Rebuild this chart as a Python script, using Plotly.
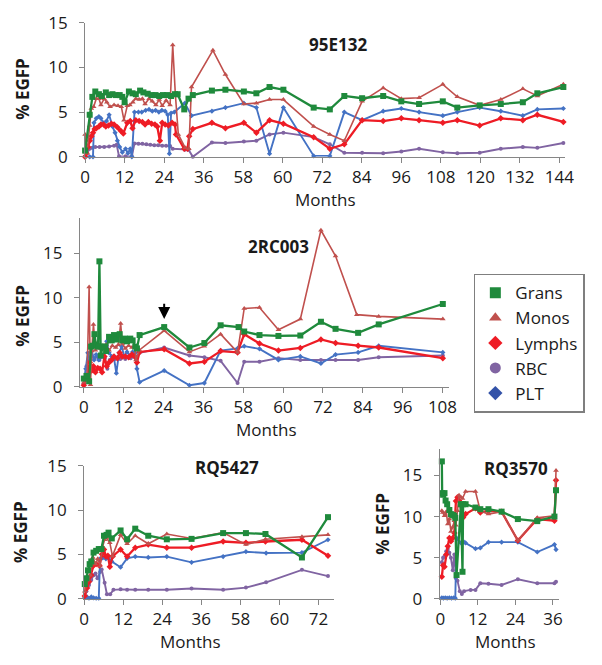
import plotly.graph_objects as go

FONT = "Open Sans"
TXT = "#1a1a1a"
AXC = "#868686"

# ---------------- Panel 1: 95E132 ----------------
p1_grans_x = [0, 1.4, 2.2, 3.1, 4.2, 5.1, 6.3, 7.3, 8.3, 9.3, 10.5, 11.3, 12.0, 13.3, 14.4, 15.4, 16.7, 17.7, 19.0, 20.2, 21.4, 22.5, 23.6, 24.9, 26.1, 27.3, 28.1, 30.1, 31.4, 32.7, 38.5, 42.6, 48.2, 52.0, 56.0, 60.2, 69.4, 74.3, 78.7, 84.1, 90.5, 96.0, 101.4, 108.6, 113.0, 119.8, 126.2, 132.9, 137.3, 145.2]
p1_grans_y = [0.7, 4.7, 6.7, 7.3, 7.0, 6.8, 7.2, 6.9, 7.0, 6.9, 6.9, 6.7, 6.1, 7.3, 7.1, 7.0, 7.4, 7.2, 7.05, 6.9, 6.9, 6.8, 6.9, 6.9, 6.8, 7.0, 7.0, 5.3, 6.5, 6.9, 7.4, 7.5, 7.3, 7.1, 7.8, 7.5, 5.5, 5.3, 6.8, 6.55, 6.8, 6.2, 5.9, 6.2, 5.5, 5.75, 5.9, 6.1, 7.1, 7.8]
p1_monos_x = [0, 0.6, 1.4, 1.9, 2.6, 3.4, 4.2, 4.8, 5.8, 6.6, 7.6, 8.8, 10.0, 11.0, 11.8, 12.8, 13.6, 14.5, 15.4, 16.4, 17.4, 18.2, 19.4, 20.4, 21.5, 22.5, 23.4, 24.6, 25.8, 26.6, 27.4, 28.3, 30.4, 31.5, 32.3, 38.8, 42.6, 48.2, 52.0, 56.0, 60.2, 69.4, 74.3, 78.7, 84.1, 90.5, 96.0, 101.4, 108.6, 113.0, 119.8, 126.2, 132.9, 137.3, 145.2]
p1_monos_y = [2.5, 0.4, 3.5, 5.4, 5.6, 6.5, 6.5, 5.8, 6.5, 6.1, 5.6, 5.8, 5.7, 5.6, 4.1, 5.7, 5.8, 6.1, 6.5, 6.4, 6.5, 5.9, 6.5, 6.2, 5.8, 6.4, 5.7, 6.3, 5.8, 12.5, 7.0, 2.5, 1.0, 0.9, 7.8, 11.9, 9.2, 5.9, 6.0, 6.4, 6.4, 3.4, 2.5, 1.8, 6.2, 7.7, 6.5, 6.6, 8.1, 6.7, 5.75, 6.4, 7.6, 6.8, 8.1]
p1_lymphs_x = [0, 0.4, 0.9, 1.4, 1.9, 2.4, 2.9, 3.4, 4.2, 4.8, 5.6, 6.3, 7.1, 8.0, 8.8, 9.8, 10.8, 11.6, 12.8, 13.7, 14.4, 15.4, 16.4, 17.4, 18.2, 19.2, 20.2, 21.2, 21.9, 22.7, 23.4, 24.3, 25.3, 26.4, 27.3, 27.6, 30.1, 31.1, 31.6, 32.7, 38.5, 42.6, 48.2, 52.0, 56.0, 60.2, 69.4, 74.3, 78.7, 84.1, 90.5, 96.0, 101.4, 108.6, 113.0, 119.8, 126.2, 132.9, 137.3, 145.2]
p1_lymphs_y = [0, 0.4, 1.1, 1.8, 2.3, 2.7, 3.1, 3.2, 3.4, 3.6, 3.6, 3.4, 3.5, 3.7, 3.6, 3.3, 2.9, 2.6, 3.8, 4.0, 3.2, 4.1, 4.0, 3.9, 3.6, 3.9, 3.7, 3.6, 3.4, 1.8, 3.8, 3.6, 3.5, 3.8, 3.6, 2.5, 0.9, 0.9, 2.3, 3.1, 3.8, 3.2, 3.8, 2.7, 4.1, 3.7, 2.2, 0.9, 1.4, 4.1, 4.0, 4.3, 4.1, 3.8, 4.1, 3.5, 4.3, 4.1, 4.7, 3.9]
p1_rbc_x = [0, 0.6, 1.4, 2.2, 3.1, 4.4, 5.8, 7.3, 8.8, 9.6, 10.3, 12.3, 14.2, 15.0, 16.2, 17.4, 18.6, 19.8, 21.0, 22.2, 23.4, 24.6, 25.8, 26.6, 30.3, 31.4, 32.7, 38.5, 42.6, 48.2, 52.0, 56.0, 60.2, 69.4, 74.3, 78.7, 84.1, 90.5, 96.0, 101.4, 108.6, 113.0, 119.8, 126.2, 132.9, 137.3, 145.2]
p1_rbc_y = [0, 0.4, 0.9, 1.0, 1.1, 1.1, 1.1, 1.15, 1.25, 1.35, 0.05, 0.05, 0.05, 1.5, 1.45, 1.45, 1.4, 1.35, 1.3, 1.3, 1.25, 1.25, 1.2, 0.9, 0.8, 0.8, 0.0, 1.6, 1.55, 1.7, 1.8, 2.5, 2.7, 2.2, 1.4, 0.45, 0.45, 0.4, 0.6, 0.9, 0.5, 0.4, 0.45, 0.9, 1.1, 1.0, 1.55]
p1_plt_x = [0, 1.4, 2.4, 2.7, 3.4, 4.2, 4.8, 5.5, 6.5, 7.3, 8.3, 9.1, 9.8, 10.5, 11.3, 12.3, 13.0, 13.7, 14.2, 15.0, 16.2, 17.2, 18.4, 19.4, 20.4, 21.4, 22.4, 23.3, 24.3, 25.1, 25.6, 26.1, 27.1, 30.3, 32.3, 38.5, 42.6, 48.2, 52.0, 56.0, 60.2, 69.4, 74.3, 78.7, 84.1, 90.5, 96.0, 101.4, 108.6, 113.0, 119.8, 126.2, 132.9, 137.3, 145.2]
p1_plt_y = [0, 0, 0, 3.8, 4.3, 4.5, 4.3, 3.8, 4.0, 4.7, 3.4, 2.7, 1.8, 1.1, 0.5, 0.9, 0.4, 0.9, 0, 5.0, 5.0, 5.0, 5.2, 5.3, 5.1, 5.2, 5.0, 5.2, 5.1, 4.7, 0.35, 4.9, 5.0, 6.0, 4.6, 5.1, 5.5, 6.0, 5.5, 0.35, 5.5, 0.1, 0.1, 5.0, 4.1, 5.1, 5.4, 5.0, 4.6, 5.0, 5.5, 5.1, 4.6, 5.3, 5.4]

# ---------------- Panel 2: 2RC003 ----------------
p2_grans_x = [0, 0.8, 1.6, 2.2, 2.7, 3.2, 3.7, 4.3, 4.7, 5.1, 5.7, 6.2, 6.7, 7.6, 8.4, 9.1, 9.9, 10.8, 11.6, 12.4, 13.0, 14.0, 14.7, 15.5, 16.0, 16.8, 24.2, 31.8, 36.3, 41.2, 46.6, 48.3, 52.9, 58.6, 65.2, 71.4, 75.8, 82.6, 88.8, 108.1]
p2_grans_y = [0.9, 1.2, 0.6, 4.5, 4.6, 5.9, 4.7, 4.5, 14.1, 3.5, 4.5, 4.5, 4.0, 5.6, 5.2, 5.8, 5.3, 5.9, 5.2, 5.4, 5.1, 5.4, 5.2, 4.5, 4.3, 5.8, 6.7, 4.4, 4.9, 6.9, 6.7, 6.2, 5.8, 5.7, 5.75, 7.3, 6.5, 6.05, 7.0, 9.3]
p2_monos_x = [0, 1.0, 1.6, 2.0, 2.4, 2.9, 3.5, 4.1, 4.9, 5.7, 6.7, 7.6, 8.6, 9.6, 10.4, 11.1, 11.6, 12.5, 13.5, 14.5, 15.3, 15.7, 16.7, 24.2, 31.8, 36.3, 41.2, 46.3, 48.3, 52.9, 58.6, 65.2, 71.4, 75.8, 82.2, 88.8, 108.1]
p2_monos_y = [0.5, 1.2, 11.2, 0.2, 4.0, 7.0, 4.1, 4.9, 4.3, 4.6, 4.7, 4.1, 4.6, 4.4, 4.7, 7.1, 4.85, 4.3, 4.6, 4.4, 4.6, 3.0, 4.1, 6.3, 3.9, 4.55, 5.9, 3.85, 8.8, 8.9, 6.4, 7.6, 17.6, 14.7, 8.1, 7.9, 7.6]
p2_lymphs_x = [0, 1.0, 1.8, 2.4, 2.9, 3.5, 4.2, 4.9, 5.5, 6.2, 6.9, 7.6, 8.4, 9.1, 10.1, 10.8, 11.6, 12.5, 13.5, 14.5, 15.3, 16.0, 16.8, 24.2, 31.8, 36.3, 41.2, 46.3, 48.3, 52.9, 58.6, 65.2, 71.4, 75.8, 82.6, 88.8, 108.1]
p2_lymphs_y = [0.15, 1.2, 2.7, 1.8, 2.3, 1.6, 2.1, 2.0, 1.6, 3.4, 2.3, 2.7, 3.0, 3.4, 3.2, 3.8, 3.4, 3.4, 3.3, 3.6, 3.4, 2.7, 3.9, 4.2, 2.6, 2.8, 4.0, 3.85, 5.9, 4.85, 4.05, 4.35, 5.3, 4.9, 4.6, 4.4, 3.2]
p2_rbc_x = [0, 0.8, 1.6, 2.4, 3.2, 3.9, 4.7, 5.5, 6.3, 7.1, 7.8, 8.6, 9.4, 10.2, 11.0, 11.8, 12.5, 13.3, 14.1, 14.9, 15.7, 16.8, 24.2, 31.8, 36.3, 41.2, 46.3, 48.3, 52.9, 58.6, 65.2, 71.4, 75.8, 82.6, 88.8, 108.1]
p2_rbc_y = [0.3, 2.3, 3.0, 3.4, 3.2, 3.4, 3.0, 3.4, 3.2, 2.0, 3.0, 3.3, 3.1, 3.3, 3.1, 3.3, 3.1, 3.4, 3.2, 3.4, 3.2, 3.8, 4.4, 3.5, 3.3, 2.9, 0.4, 2.8, 2.8, 3.2, 3.0, 3.0, 3.0, 3.0, 3.3, 3.5]
p2_plt_x = [0, 0.6, 1.2, 1.8, 2.4, 3.1, 3.7, 4.5, 5.3, 6.1, 6.9, 7.6, 8.4, 9.1, 9.8, 10.6, 11.4, 12.2, 13.0, 14.0, 14.7, 15.5, 16.0, 16.8, 24.2, 31.8, 36.3, 41.2, 46.3, 48.3, 52.9, 58.6, 65.2, 71.4, 75.8, 82.6, 88.8, 108.1]
p2_plt_y = [0.3, 2.0, 3.8, 3.0, 4.0, 3.0, 3.6, 3.0, 3.4, 3.3, 5.1, 3.8, 3.4, 3.2, 1.5, 3.8, 4.5, 3.4, 3.9, 3.5, 3.9, 3.8, 2.0, 0.5, 1.8, 0.15, 0.4, 4.05, 4.3, 4.55, 4.25, 3.0, 3.4, 2.6, 3.6, 3.85, 4.6, 3.85]

# ---------------- Panel 3: RQ5427 ----------------
p3_grans_x = [0.2, 0.7, 1.2, 1.7, 2.2, 2.9, 3.7, 4.5, 5.3, 6.1, 6.9, 7.5, 8.5, 11.2, 13.2, 15.7, 19.7, 25.4, 33.0, 42.7, 49.7, 55.7, 66.9, 74.9]
p3_grans_y = [1.65, 2.3, 3.2, 3.9, 4.2, 5.2, 5.4, 5.6, 5.6, 7.1, 7.2, 7.45, 6.8, 7.7, 6.7, 7.9, 7.1, 6.7, 6.75, 7.4, 7.4, 7.3, 4.65, 9.2]
p3_monos_x = [0.2, 1.2, 1.9, 2.7, 3.5, 4.2, 4.9, 5.7, 6.3, 6.9, 7.9, 8.7, 11.2, 13.2, 15.7, 19.7, 25.4, 33.0, 42.7, 49.7, 55.7, 66.9, 74.9]
p3_monos_y = [0.85, 2.1, 2.65, 4.65, 3.9, 4.5, 3.7, 5.9, 6.65, 6.85, 6.3, 4.8, 7.2, 6.2, 7.1, 6.2, 7.3, 6.8, 7.45, 6.1, 6.7, 7.0, 7.2]
p3_lymphs_x = [0.2, 0.9, 1.5, 2.2, 2.9, 3.7, 4.7, 5.5, 6.1, 6.7, 7.3, 7.9, 8.8, 11.2, 13.2, 15.7, 19.7, 25.4, 33.0, 42.7, 49.7, 55.7, 66.9, 74.9]
p3_lymphs_y = [0.3, 1.2, 1.9, 2.65, 3.75, 3.9, 3.75, 5.0, 5.55, 4.75, 4.85, 3.6, 4.8, 5.55, 4.75, 5.75, 6.1, 5.75, 5.75, 6.45, 6.3, 6.45, 6.65, 4.85]
p3_rbc_x = [0.2, 0.7, 1.5, 2.2, 2.9, 3.5, 4.1, 4.9, 5.4, 6.3, 7.0, 8.0, 9.0, 11.2, 13.2, 15.7, 19.7, 25.4, 33.0, 42.7, 49.7, 55.9, 66.9, 74.9]
p3_rbc_y = [0.2, 0.85, 1.55, 2.1, 2.65, 2.85, 2.3, 3.0, 3.3, 1.8, 0.5, 0.5, 1.0, 1.05, 1.0, 1.0, 1.0, 1.0, 1.15, 1.0, 1.25, 1.85, 3.25, 2.55]
p3_plt_x = [0.2, 0.9, 1.5, 2.2, 2.9, 3.7, 4.5, 4.9, 5.7, 6.7, 7.5, 8.5, 11.2, 13.2, 15.7, 19.7, 25.4, 33.0, 42.7, 49.7, 55.9, 66.9, 74.9]
p3_plt_y = [0.1, 0.2, 0.05, 0.2, 0.1, 0.05, 0.05, 4.5, 4.6, 4.5, 4.6, 4.2, 3.55, 4.55, 4.75, 4.65, 4.75, 4.1, 4.75, 5.3, 5.15, 5.2, 6.65]

# ---------------- Panel 4: RQ3570 ----------------
p4_grans_x = [0.5, 0.6, 0.9, 1.35, 1.7, 2.2, 2.9, 3.4, 4.0, 4.5, 4.8, 5.2, 6.6, 7.1, 7.3, 8.1, 11.25, 12.8, 15.4, 19.6, 24.8, 31.0, 36.5, 37.0]
p4_grans_y = [16.7, 12.85, 12.65, 12.85, 11.95, 11.5, 10.8, 10.3, 10.2, 10.1, 9.85, 2.9, 11.5, 3.3, 11.5, 11.5, 11.1, 10.9, 10.9, 10.6, 9.7, 9.45, 10.0, 13.2]
p4_monos_x = [0.5, 0.8, 1.35, 1.9, 2.4, 2.9, 3.4, 4.0, 4.5, 5.0, 5.5, 6.0, 6.6, 7.1, 8.1, 11.25, 12.8, 15.4, 19.6, 24.8, 31.0, 36.5, 37.0]
p4_monos_y = [10.7, 10.5, 10.1, 10.6, 9.1, 9.7, 8.2, 8.75, 9.5, 8.95, 10.7, 12.6, 12.35, 12.2, 13.05, 13.05, 10.7, 10.3, 10.6, 7.1, 9.85, 10.1, 15.6]
p4_lymphs_x = [0.5, 0.9, 1.35, 1.9, 2.4, 2.9, 3.4, 4.0, 4.5, 5.0, 5.5, 6.0, 7.3, 8.1, 11.25, 12.8, 15.4, 19.6, 24.8, 31.0, 36.5, 37.0]
p4_lymphs_y = [2.7, 4.1, 3.9, 5.4, 6.4, 7.4, 7.0, 7.4, 8.0, 11.9, 12.35, 11.95, 9.9, 10.3, 11.0, 10.5, 10.7, 10.6, 7.1, 9.7, 9.5, 14.4]
p4_rbc_x = [0.5, 0.9, 1.35, 1.9, 2.4, 2.9, 3.4, 4.0, 4.5, 5.0, 5.5, 6.25, 6.9, 7.6, 9.7, 11.25, 12.8, 15.4, 19.6, 24.8, 31.0, 36.5, 37.0]
p4_rbc_y = [4.45, 5.0, 5.2, 5.8, 6.1, 5.6, 5.0, 3.5, 5.4, 2.5, 2.2, 0.95, 0.6, 0.95, 1.1, 1.1, 1.9, 1.85, 1.7, 2.4, 1.9, 1.9, 2.1]
p4_plt_x = [0.5, 1.0, 1.6, 2.2, 2.9, 3.6, 4.3, 4.8, 5.2, 6.6, 7.6, 8.1, 11.25, 12.8, 15.4, 19.6, 24.8, 31.0, 36.5, 37.0]
p4_plt_y = [0.15, 0.1, 0.15, 0.1, 0.15, 0.1, 0.15, 0.1, 7.4, 6.8, 6.9, 6.8, 6.1, 6.2, 6.9, 6.9, 6.9, 5.7, 6.6, 6.0]

# ---------------- labels ----------------
series_names = ["Grans", "Monos", "Lymphs", "RBC", "PLT"]
panel_titles = ["95E132", "2RC003", "RQ5427", "RQ3570"]
p1_ticks = [0, 12, 24, 36, 48, 60, 72, 84, 96, 108, 120, 132, 144]
p1_ticktext = ["0", "12", "24", "36", "58", "60", "72", "84", "96", "108", "120", "132", "144"]
p2_ticks = [0, 12, 24, 36, 48, 60, 72, 84, 96, 108]
p2_ticktext = ["0", "12", "24", "36", "58", "60", "72", "84", "96", "108"]
p3_ticks = [0, 12, 24, 36, 48, 60, 72]
p3_ticktext = ["0", "12", "24", "36", "58", "60", "72"]
p4_ticks = [0, 12, 24, 36]
p4_ticktext = ["0", "12", "24", "36"]
y_ticks = [0, 5, 10, 15]

STYLE = {
    "Grans": dict(color="#1f8a3c", symbol="square", size=6, width=2.3),
    "Monos": dict(color="#c0504d", symbol="triangle-up", size=5, width=1.6),
    "Lymphs": dict(color="#ee1c25", symbol="diamond", size=5, width=2.3),
    "RBC": dict(color="#8064a2", symbol="circle", size=4, width=1.9),
    "PLT": dict(color="#4472c4", symbol="diamond", size=4, width=1.9),
}
LEGEND_COL = {"Grans": "#1f8a3c", "Monos": "#c0504d", "Lymphs": "#ee1c25",
              "RBC": "#8064a2", "PLT": "#3352a8"}

panels = [
    {"Grans": (p1_grans_x, p1_grans_y), "Monos": (p1_monos_x, p1_monos_y), "Lymphs": (p1_lymphs_x, p1_lymphs_y), "RBC": (p1_rbc_x, p1_rbc_y), "PLT": (p1_plt_x, p1_plt_y)},
    {"Grans": (p2_grans_x, p2_grans_y), "Monos": (p2_monos_x, p2_monos_y), "Lymphs": (p2_lymphs_x, p2_lymphs_y), "RBC": (p2_rbc_x, p2_rbc_y), "PLT": (p2_plt_x, p2_plt_y)},
    {"Grans": (p3_grans_x, p3_grans_y), "Monos": (p3_monos_x, p3_monos_y), "Lymphs": (p3_lymphs_x, p3_lymphs_y), "RBC": (p3_rbc_x, p3_rbc_y), "PLT": (p3_plt_x, p3_plt_y)},
    {"Grans": (p4_grans_x, p4_grans_y), "Monos": (p4_monos_x, p4_monos_y), "Lymphs": (p4_lymphs_x, p4_lymphs_y), "RBC": (p4_rbc_x, p4_rbc_y), "PLT": (p4_plt_x, p4_plt_y)},
]

W, H = 602, 665
fig = go.Figure()

draw_order = ["RBC", "PLT", "Lymphs", "Monos", "Grans"]
for i, pdata in enumerate(panels):
    xa = "x" if i == 0 else f"x{i+1}"
    ya = "y" if i == 0 else f"y{i+1}"
    for name in draw_order:
        xs, ys = pdata[name]
        st = STYLE[name]
        fig.add_trace(go.Scatter(
            x=xs, y=ys, mode="lines+markers", name=name, showlegend=False,
            xaxis=xa, yaxis=ya, cliponaxis=False,
            line=dict(color=st["color"], width=st["width"]),
            marker=dict(color=st["color"], symbol=st["symbol"], size=st["size"]),
        ))

legend_symbols = {"Grans": "square", "Monos": "triangle-up", "Lymphs": "diamond", "RBC": "circle", "PLT": "diamond"}
for name in series_names:
    fig.add_trace(go.Scatter(
        x=[None], y=[None], mode="markers", name=name, showlegend=True,
        xaxis="x2", yaxis="y2",
        marker=dict(color=LEGEND_COL[name], symbol=legend_symbols[name], size=11),
    ))

def px_x(p):
    return p / W

def px_y(p):
    return 1 - p / H

tickfont = dict(family=FONT, size=17, color=TXT)

def xax(dom, rng, tv, tt, anchor):
    return dict(domain=dom, range=rng, tickmode="array", tickvals=tv, ticktext=tt,
                showline=True, linecolor=AXC, linewidth=1, ticks="outside", ticklen=5,
                tickcolor=AXC, showgrid=False, zeroline=False, tickfont=tickfont,
                anchor=anchor, fixedrange=True)

def yax(dom, rng, anchor):
    return dict(domain=dom, range=rng, tickmode="array", tickvals=y_ticks,
                ticktext=[str(v) for v in y_ticks],
                showline=True, linecolor=AXC, linewidth=1, ticks="outside", ticklen=5,
                tickcolor=AXC, showgrid=False, zeroline=False, tickfont=tickfont,
                ticklabelstandoff=8, anchor=anchor, fixedrange=True)

fig.update_layout(
    width=W, height=H, margin=dict(l=0, r=0, t=0, b=0),
    paper_bgcolor="white", plot_bgcolor="white",
    font=dict(family=FONT, color=TXT),
    xaxis=xax([px_x(82), px_x(573)], [0, 145.6], p1_ticks, p1_ticktext, "y"),
    yaxis=yax([px_y(150), px_y(11)], [0, 15], "x"),
    xaxis2=xax([px_x(76.6), px_x(454.7)], [-1.2, 110], p2_ticks, p2_ticktext, "y2"),
    yaxis2=yax([px_y(388), px_y(213.2)], [0, 19], "x2"),
    xaxis3=xax([px_x(81), px_x(337)], [0, 76.8], p3_ticks, p3_ticktext, "y3"),
    yaxis3=yax([px_y(607.7), px_y(470)], [0, 15], "x3"),
    xaxis4=xax([px_x(445), px_x(566.7)], [-0.2, 37.8], p4_ticks, p4_ticktext, "y4"),
    yaxis4=yax([px_y(608), px_y(452.7)], [0, 18.2], "x4"),
    legend=dict(x=px_x(480), y=px_y(271), xanchor="left", yanchor="top",
                bordercolor="#7f7f7f", borderwidth=1.5, bgcolor="white",
                font=dict(family=FONT, size=17, color=TXT),
                itemsizing="trace", tracegroupgap=0),
)

ann = []
title_pos = [(341, 34), (280, 243), (227, 472), (523, 473)]
for t, (x, y) in zip(panel_titles, title_pos):
    ann.append(dict(text=f"<b>{t}</b>", x=px_x(x), y=px_y(y), xref="paper", yref="paper",
                    xanchor="center", yanchor="middle",
                    showarrow=False, font=dict(family=FONT, size=17, color=TXT)))
months_pos = [(328, 194), (268, 432), (190, 652), (512, 652)]
for (x, y) in months_pos:
    ann.append(dict(text="Months", x=px_x(x), y=px_y(y), xref="paper", yref="paper",
                    xanchor="center", yanchor="middle",
                    showarrow=False, font=dict(family=FONT, size=17, color=TXT)))
egfp_pos = [(18, 80), (18, 315), (16, 539), (387, 530)]
for (x, y) in egfp_pos:
    ann.append(dict(text="<b>% EGFP</b>", x=px_x(x), y=px_y(y), xref="paper", yref="paper",
                    xanchor="center", yanchor="middle",
                    showarrow=False, textangle=-90, font=dict(family=FONT, size=17, color=TXT)))
ann.append(dict(x=24.2, y=7.6, xref="x2", yref="y2", ax=24.2, ay=9.5, axref="x2", ayref="y2",
                text="", showarrow=True, arrowhead=2, arrowsize=1.2, arrowwidth=2, arrowcolor="black"))
fig.update_layout(annotations=ann)

fig.write_html("out.html", config={"displayModeBar": False},
               post_script="document.body.style.margin='0px';")
